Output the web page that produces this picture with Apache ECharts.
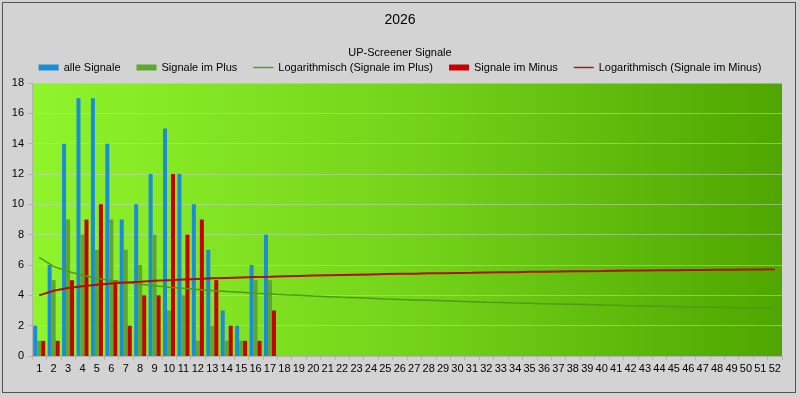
<!DOCTYPE html>
<html>
<head>
<meta charset="utf-8">
<script src="https://cdn.jsdelivr.net/npm/echarts@6/dist/echarts.min.js"></script>
<style>
html,body{margin:0;padding:0;background:#d3d3d3;}
#frame{position:absolute;left:2px;top:2px;width:794px;height:391px;border:1px solid #555;box-sizing:border-box;}
#c{position:absolute;left:0;top:0;width:800px;height:397px;}
</style>
</head>
<body>
<div id="frame"></div>
<div id="c"></div>
<script>
const weeks = [];
for (let i = 1; i <= 52; i++) weeks.push(String(i));

const alleSignale = [2,6,14,17,17,14,9,10,12,15,12,10,7,3,2,6,8];
const signaleImPlus = [1,5,9,8,7,9,7,6,8,3,4,1,2,1,1,5,5];
const signaleImMinus = [1,1,5,9,10,5,2,4,4,12,8,9,5,2,1,1,3];

const trendPlus = [6.50,5.91,5.57,5.32,5.13,4.98,4.85,4.73,4.63,4.54,4.46,4.39,4.32,4.26,4.20,4.14,4.09,4.04,4.00,3.95,3.91,3.87,3.84,3.80,3.76,3.73,3.70,3.67,3.64,3.61,3.58,3.55,3.53,3.50,3.48,3.45,3.43,3.41,3.39,3.36,3.34,3.32,3.30,3.28,3.26,3.25,3.23,3.21,3.19,3.17,3.16,3.14];
const trendMinus = [4.00,4.30,4.48,4.60,4.70,4.78,4.85,4.90,4.96,5.00,5.04,5.08,5.12,5.15,5.18,5.21,5.23,5.26,5.28,5.30,5.32,5.34,5.36,5.38,5.40,5.42,5.43,5.45,5.46,5.48,5.49,5.51,5.52,5.53,5.55,5.56,5.57,5.58,5.59,5.60,5.62,5.63,5.64,5.65,5.66,5.67,5.67,5.68,5.69,5.70,5.71,5.72];

const yTicks = [0,2,4,6,8,10,12,14,16,18];

const chart = echarts.init(document.getElementById('c'), null, {renderer:'canvas'});
const font = 'Liberation Sans';
const lineIcon = 'path://M0,0H20V1.4H0Z';
chart.setOption({
  backgroundColor: 'transparent',
  animation: false,
  title: [
    {text: '2026', left: 'center', top: 8, textStyle: {fontFamily: font, fontSize: 14, fontWeight: 'normal', color: '#000'}},
    {text: 'UP-Screener Signale', left: 'center', top: 42, textStyle: {fontFamily: font, fontSize: 11, fontWeight: 'normal', color: '#000'}}
  ],
  legend: {
    top: 57, left: 'center',
    itemWidth: 20, itemHeight: 6, itemGap: 16,
    symbolKeepAspect: true,
    textStyle: {fontFamily: font, fontSize: 11, color: '#000'},
    data: [
      {name: 'alle Signale', icon: 'rect'},
      {name: 'Signale im Plus', icon: 'rect'},
      {name: 'Logarithmisch (Signale im Plus)', icon: lineIcon},
      {name: 'Signale im Minus', icon: 'rect'},
      {name: 'Logarithmisch (Signale im Minus)', icon: lineIcon}
    ]
  },
  grid: {
    left: 32, right: 18, top: 83, bottom: 41,
    show: true, borderWidth: 0,
    backgroundColor: new echarts.graphic.LinearGradient(0,0,1,0,[
      {offset:0, color:'#8ff42a'},
      {offset:0.5, color:'#74d41a'},
      {offset:1, color:'#4fa600'}
    ])
  },
  xAxis: {
    type: 'category', data: weeks, boundaryGap: true,
    axisLine: {show: true, lineStyle: {color: '#b3b3b3'}},
    axisTick: {show: true, length: 4, lineStyle: {color: '#b3b3b3'}},
    axisLabel: {interval: 0, fontFamily: font, fontSize: 11, color: '#000', margin: 7}
  },
  yAxis: {
    type: 'value', min: yTicks[0], max: yTicks[yTicks.length-1], interval: 2,
    axisLine: {show: true, lineStyle: {color: '#b3b3b3'}},
    axisTick: {show: true, length: 4, lineStyle: {color: '#b3b3b3'}},
    axisLabel: {fontFamily: font, fontSize: 11, color: '#000', margin: 8},
    splitLine: {show: true, lineStyle: {color: 'rgba(200,210,200,0.55)', width: 1}}
  },
  series: [
    {name: 'alle Signale', type: 'bar', data: alleSignale, barWidth: 4, barGap: '0%', itemStyle: {color: '#1a8dd6'}},
    {name: 'Signale im Plus', type: 'bar', data: signaleImPlus, barWidth: 4, barGap: '0%', itemStyle: {color: '#5ea62e'}},
    {name: 'Signale im Minus', type: 'bar', data: signaleImMinus, barWidth: 4, barGap: '0%', itemStyle: {color: '#c80000'}},
    {name: 'Logarithmisch (Signale im Plus)', type: 'line', data: trendPlus, symbol: 'none', z: 5, lineStyle: {color: '#4f9a16', width: 1.5}, itemStyle: {color: '#4f9a16'}},
    {name: 'Logarithmisch (Signale im Minus)', type: 'line', data: trendMinus, symbol: 'none', z: 5, lineStyle: {color: '#b01000', width: 2}, itemStyle: {color: '#b01000'}}
  ]
});
</script>
</body>
</html>
